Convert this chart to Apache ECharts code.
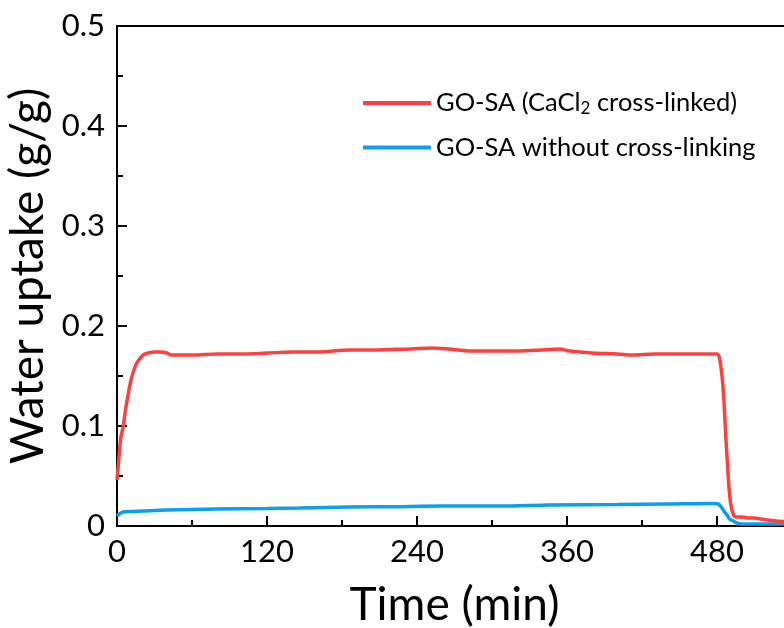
<!DOCTYPE html>
<html>
<head>
<meta charset="utf-8">
<script src="https://cdn.jsdelivr.net/npm/echarts@6/dist/echarts.min.js"></script>
<style>
  html, body { margin: 0; padding: 0; background: #fff; }
  #chart { width: 784px; height: 628px; }
</style>
</head>
<body>
<div id="chart"></div>
<script>
// 时间 (min)
const redTime = [0, 1, 2, 3, 5, 7, 9, 11, 13, 15, 18, 21, 25, 30, 35, 40, 43, 50, 60, 80, 100, 120, 140, 160, 186, 200, 218, 235, 252, 265, 282, 300, 320, 340, 354, 362, 380, 400, 413, 430, 440, 460, 480, 482, 484, 485.5, 487, 488, 489.5, 491, 493, 495, 500, 505, 510, 515, 520, 527, 540]
const redUptake = [0.046, 0.060, 0.075, 0.088, 0.100, 0.118, 0.132, 0.145, 0.154, 0.161, 0.167, 0.171, 0.173, 0.174, 0.174, 0.173, 0.171, 0.171, 0.171, 0.172, 0.172, 0.173, 0.174, 0.174, 0.176, 0.176, 0.1765, 0.177, 0.178, 0.177, 0.175, 0.175, 0.175, 0.176, 0.177, 0.175, 0.173, 0.172, 0.171, 0.172, 0.172, 0.172, 0.172, 0.168, 0.150, 0.126, 0.090, 0.070, 0.040, 0.022, 0.012, 0.009, 0.009, 0.008, 0.008, 0.007, 0.006, 0.005, 0.004]

const blueTime = [0, 1, 3, 5, 10, 20, 40, 80, 120, 146, 186, 220, 260, 306, 346, 400, 440, 477, 481, 484, 486, 488, 490, 493, 496, 500, 520, 540]
const blueUptake = [0.010, 0.011, 0.013, 0.014, 0.0145, 0.015, 0.016, 0.017, 0.0175, 0.018, 0.019, 0.0193, 0.020, 0.020, 0.021, 0.0215, 0.022, 0.0225, 0.022, 0.018, 0.014, 0.011, 0.007, 0.005, 0.003, 0.002, 0.002, 0.002]

const seriesNames = ['GO-SA (CaCl2 cross-linked)', 'GO-SA without cross-linking']

const font = 'Lato, "Open Sans", sans-serif'

const chart = echarts.init(document.getElementById('chart'))

const option = {
  backgroundColor: '#fff',
  animation: false,
  grid: {
    left: 117,
    top: 26,
    width: 675,
    height: 500,
    outerBoundsMode: 'none',
    containLabel: false,
    show: true,
    borderColor: '#000',
    borderWidth: 2,
    backgroundColor: 'transparent'
  },
  legend: {
    data: seriesNames,
    orient: 'vertical',
    left: 363,
    top: 90,
    padding: 0,
    icon: 'rect',
    itemWidth: 68,
    itemHeight: 4,
    itemGap: 17,
    formatter: name => {
      if (name.indexOf('CaCl2') >= 0) {
        return '{n|GO-SA (CaCl}{sub|2}{n| cross-linked)}'
      }
      return '{n|' + name + '}'
    },
    textStyle: {
      fontFamily: font,
      fontSize: 25.5,
      color: '#000',
      rich: {
        n: { fontFamily: font, fontSize: 25.5, color: '#000', lineHeight: 29 },
        sub: { fontFamily: font, fontSize: 17, color: '#000', lineHeight: 14, verticalAlign: 'bottom' }
      }
    }
  },
  xAxis: {
    type: 'value',
    min: 0,
    max: 540,
    interval: 120,
    name: 'Time (min)',
    nameLocation: 'middle',
    nameGap: 56,
    nameTextStyle: { fontFamily: font, fontSize: 46, color: '#000' },
    axisLine: { lineStyle: { color: '#000', width: 2 } },
    axisTick: { inside: true, length: 10, lineStyle: { color: '#000', width: 2 } },
    minorTick: { show: true, splitNumber: 2, length: 6, lineStyle: { color: '#000', width: 2 } },
    splitLine: { show: false },
    axisLabel: {
      fontFamily: font,
      fontSize: 31,
      color: '#000',
      margin: 10,
      showMaxLabel: false,
      formatter: v => (v % 120 === 0 ? String(v) : '')
    }
  },
  yAxis: {
    type: 'value',
    min: 0,
    max: 0.5,
    interval: 0.1,
    name: 'Water uptake (g/g)',
    nameLocation: 'middle',
    nameRotate: 90,
    nameGap: 61,
    nameTextStyle: { fontFamily: font, fontSize: 46, color: '#000' },
    axisLine: { lineStyle: { color: '#000', width: 2 } },
    axisTick: { inside: true, length: 10, lineStyle: { color: '#000', width: 2 } },
    minorTick: { show: true, splitNumber: 2, length: 6, lineStyle: { color: '#000', width: 2 } },
    splitLine: { show: false },
    axisLabel: {
      fontFamily: font,
      fontSize: 31,
      color: '#000',
      margin: 12,
      formatter: v => (v === 0 ? '0' : v.toFixed(1))
    }
  },
  series: [
    {
      name: seriesNames[0],
      type: 'line',
      data: redTime.map((t, i) => [t, redUptake[i]]),
      symbol: 'none',
      smooth: 0.3,
      lineStyle: { color: '#ff4040', width: 3.5 },
      itemStyle: { color: '#ff4040' },
      z: 3
    },
    {
      name: seriesNames[1],
      type: 'line',
      data: blueTime.map((t, i) => [t, blueUptake[i]]),
      symbol: 'none',
      smooth: 0.3,
      lineStyle: { color: '#0aa0f0', width: 3.5 },
      itemStyle: { color: '#0aa0f0' },
      z: 2
    }
  ]
}

chart.setOption(option)
</script>
</body>
</html>
